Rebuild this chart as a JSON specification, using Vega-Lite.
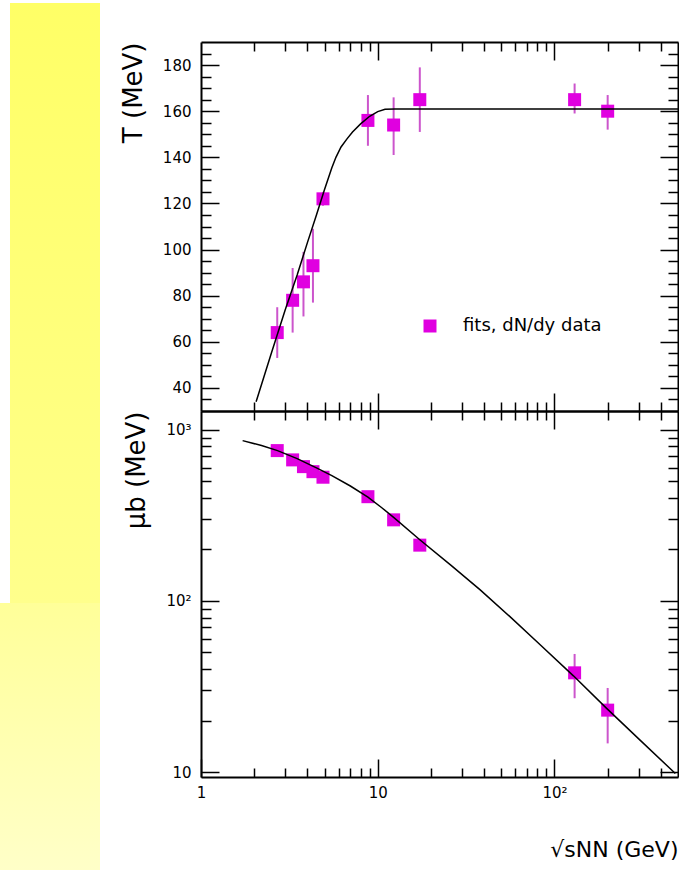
{
  "$schema": "https://vega.github.io/schema/vega-lite/v6.json",
  "background": "white",
  "padding": {"left": 0, "top": 3, "right": 0, "bottom": 0},
  "config": {
    "font": "DejaVu Sans",
    "view": {"stroke": null},
    "axis": {"grid": false, "domainColor": "black", "tickColor": "black", "labelColor": "black", "titleColor": "black", "labelFontSize": 15, "domainWidth": 2, "tickWidth": 1.5, "labelFlush": false, "labelOverlap": false, "titleFontWeight": "normal"}
  },
  "spacing": 20,
  "resolve": {"scale": {"color": "independent"}},
  "hconcat": [
    {
      "spacing": 0,
      "vconcat": [
        {
          "spacing": 0,
          "hconcat": [
            {"width": 10, "height": 600, "data": {"values": [{"part": "gap"}]}, "mark": {"type": "rect", "opacity": 0}, "encoding": {}},
            {"width": 90, "height": 600, "data": {"values": [{"part": "strip"}]}, "mark": {"type": "rect", "color": {"gradient": "linear", "x1": 0, "y1": 0, "x2": 0, "y2": 1, "stops": [{"offset": 0, "color": "#ffff66"}, {"offset": 1, "color": "#ffff8c"}]}}, "encoding": {}}
          ]
        },
        {"width": 100, "height": 267, "data": {"values": [{"part": "foot"}]}, "mark": {"type": "rect", "color": {"gradient": "linear", "x1": 0, "y1": 0, "x2": 0, "y2": 1, "stops": [{"offset": 0, "color": "#ffff99"}, {"offset": 1, "color": "#ffffc8"}]}}, "encoding": {}}
      ]
    },
    {
      "spacing": 0,
      "bounds": "flush",
      "resolve": {"scale": {"color": "independent"}},
      "vconcat": [
        {"width": 477, "height": 39, "data": {"values": [{"part": "spacer"}]}, "mark": {"type": "rect", "opacity": 0}, "encoding": {}},
        {
          "width": 477,
          "height": 369,
          "data": {"values": [
            {"s": 2.7, "T": 64, "lo": 53, "hi": 75},
            {"s": 3.3, "T": 78, "lo": 64, "hi": 92},
            {"s": 3.8, "T": 86, "lo": 71, "hi": 99},
            {"s": 4.3, "T": 93, "lo": 77, "hi": 109},
            {"s": 4.9, "T": 122, "lo": 119, "hi": 125},
            {"s": 8.8, "T": 156, "lo": 145, "hi": 167},
            {"s": 12.3, "T": 154, "lo": 141, "hi": 166},
            {"s": 17.3, "T": 165, "lo": 151, "hi": 179},
            {"s": 130, "T": 165, "lo": 159, "hi": 172},
            {"s": 200, "T": 160, "lo": 152, "hi": 167}
          ]},
          "resolve": {"axis": {"x": "independent", "y": "independent"}},
          "layer": [
            {
              "mark": {"type": "rule", "color": "#cc55cc", "strokeWidth": 2},
              "encoding": {
                "x": {"field": "s", "type": "quantitative", "scale": {"type": "log", "domain": [1, 500], "nice": false},
                  "axis": {"orient": "bottom", "values": [2,3,4,5,6,7,8,9,10,20,30,40,50,60,70,80,90,100,200,300,400], "labels": false, "title": null,
                    "tickSize": {"condition": {"test": "datum.value == 10 || datum.value == 100", "value": -18}, "value": -9}}},
                "y": {"field": "lo", "type": "quantitative", "scale": {"domain": [30, 190], "nice": false, "zero": false},
                  "axis": {"orient": "left", "values": [35,40,45,50,55,60,65,70,75,80,85,90,95,100,105,110,115,120,125,130,135,140,145,150,155,160,165,170,175,180,185],
                    "tickSize": {"condition": {"test": "datum.value % 20 == 0", "value": -18}, "value": -10},
                    "labelExpr": "datum.value % 20 == 0 ? datum.label : ''", "labelPadding": 28,
                    "title": "T (MeV)", "titleFontSize": 26, "titleAnchor": "end", "titlePadding": 16}},
                "y2": {"field": "hi"}
              }
            },
            {
              "mark": {"type": "point", "shape": "square", "filled": true, "size": 169, "opacity": 1},
              "encoding": {
                "x": {"field": "s", "type": "quantitative", "scale": {"type": "log", "domain": [1, 500], "nice": false},
                  "axis": {"orient": "top", "values": [2,3,4,5,6,7,8,9,10,20,30,40,50,60,70,80,90,100,200,300,400], "labels": false, "title": null,
                    "tickSize": {"condition": {"test": "datum.value == 10 || datum.value == 100", "value": -18}, "value": -9}}},
                "y": {"field": "T", "type": "quantitative", "scale": {"domain": [30, 190], "nice": false, "zero": false},
                  "axis": {"orient": "right", "values": [35,40,45,50,55,60,65,70,75,80,85,90,95,100,105,110,115,120,125,130,135,140,145,150,155,160,165,170,175,180,185],
                    "tickSize": {"condition": {"test": "datum.value % 20 == 0", "value": -18}, "value": -10}, "labels": false, "title": null}},
                "color": {"datum": "fits, dN/dy data", "type": "nominal", "scale": {"range": ["#e000e0"]},
                  "legend": {"orient": "bottom-right", "offset": 76, "title": null, "symbolType": "square", "symbolSize": 169, "symbolStrokeWidth": 0, "labelFontSize": 18, "labelOffset": 24, "padding": 0, "labelColor": "black"}}
              }
            },
            {
              "data": {"values": [
                {"s": 2.05, "T": 34}, {"s": 2.5, "T": 55}, {"s": 3.0, "T": 74}, {"s": 3.5, "T": 89}, {"s": 4.0, "T": 103},
                {"s": 4.5, "T": 115}, {"s": 5.0, "T": 126}, {"s": 5.5, "T": 135.5}, {"s": 5.8, "T": 140}, {"s": 6.2, "T": 144.5},
                {"s": 6.7, "T": 148}, {"s": 7.2, "T": 151}, {"s": 8.0, "T": 154.5}, {"s": 9.0, "T": 157.8}, {"s": 10.0, "T": 159.8},
                {"s": 11.0, "T": 160.8}, {"s": 12.5, "T": 161}, {"s": 500, "T": 161}
              ]},
              "mark": {"type": "line", "color": "black", "strokeWidth": 1.5, "clip": true},
              "encoding": {
                "x": {"field": "s", "type": "quantitative", "scale": {"type": "log", "domain": [1, 500], "nice": false}, "axis": null},
                "y": {"field": "T", "type": "quantitative", "scale": {"domain": [30, 190], "nice": false, "zero": false}, "axis": null}
              }
            }
          ]
        },
        {
          "width": 477,
          "height": 366,
          "data": {"values": [
            {"s": 2.7, "mu": 757, "lo": 735, "hi": 780},
            {"s": 3.3, "mu": 668, "lo": 648, "hi": 688},
            {"s": 3.8, "mu": 610, "lo": 592, "hi": 628},
            {"s": 4.3, "mu": 570, "lo": 553, "hi": 587},
            {"s": 4.9, "mu": 529, "lo": 513, "hi": 545},
            {"s": 8.8, "mu": 407, "lo": 395, "hi": 419},
            {"s": 12.3, "mu": 298, "lo": 289, "hi": 307},
            {"s": 17.3, "mu": 212, "lo": 206, "hi": 218},
            {"s": 130, "mu": 38, "lo": 27, "hi": 49},
            {"s": 200, "mu": 23, "lo": 14.7, "hi": 31}
          ]},
          "resolve": {"axis": {"x": "independent", "y": "independent"}},
          "layer": [
            {
              "mark": {"type": "rule", "color": "#cc55cc", "strokeWidth": 2},
              "encoding": {
                "x": {"field": "s", "type": "quantitative", "scale": {"type": "log", "domain": [1, 500], "nice": false},
                  "axis": {"orient": "bottom", "values": [1,2,3,4,5,6,7,8,9,10,20,30,40,50,60,70,80,90,100,200,300,400],
                    "tickSize": {"condition": {"test": "datum.value == 1 || datum.value == 10 || datum.value == 100", "value": -18}, "value": -9},
                    "labelExpr": "datum.value == 1 ? '1' : datum.value == 10 ? '10' : datum.value == 100 ? '10²' : ''", "labelPadding": 26,
                    "title": "√sNN (GeV)", "titleFontSize": 22, "titleAnchor": "end", "titlePadding": 30}},
                "y": {"field": "lo", "type": "quantitative", "scale": {"type": "log", "domain": [9.35, 1290], "nice": false},
                  "axis": {"orient": "left", "values": [10,20,30,40,50,60,70,80,90,100,200,300,400,500,600,700,800,900,1000],
                    "tickSize": {"condition": {"test": "datum.value == 10 || datum.value == 100 || datum.value == 1000", "value": -18}, "value": -10},
                    "labelExpr": "datum.value == 10 ? '10' : datum.value == 100 ? '10²' : datum.value == 1000 ? '10³' : ''", "labelPadding": 28,
                    "title": "μb (MeV)", "titleFontSize": 26, "titleAnchor": "end", "titlePadding": 16}},
                "y2": {"field": "hi"}
              }
            },
            {
              "mark": {"type": "point", "shape": "square", "filled": true, "size": 169, "opacity": 1, "color": "#e000e0"},
              "encoding": {
                "x": {"field": "s", "type": "quantitative", "scale": {"type": "log", "domain": [1, 500], "nice": false},
                  "axis": {"orient": "top", "values": [2,3,4,5,6,7,8,9,10,20,30,40,50,60,70,80,90,100,200,300,400], "labels": false, "title": null,
                    "tickSize": {"condition": {"test": "datum.value == 10 || datum.value == 100", "value": -18}, "value": -9}}},
                "y": {"field": "mu", "type": "quantitative", "scale": {"type": "log", "domain": [9.35, 1290], "nice": false},
                  "axis": {"orient": "right", "values": [10,20,30,40,50,60,70,80,90,100,200,300,400,500,600,700,800,900,1000],
                    "tickSize": {"condition": {"test": "datum.value == 10 || datum.value == 100 || datum.value == 1000", "value": -18}, "value": -10}, "labels": false, "title": null}}
              }
            },
            {
              "data": {"values": [
                {"s": 1.72, "mu": 866}, {"s": 2.2, "mu": 810}, {"s": 2.71, "mu": 757}, {"s": 3.5, "mu": 680}, {"s": 4.5, "mu": 600},
                {"s": 5.5, "mu": 540}, {"s": 7.0, "mu": 470}, {"s": 8.8, "mu": 405}, {"s": 10.5, "mu": 352}, {"s": 12.3, "mu": 308},
                {"s": 17.3, "mu": 228}, {"s": 25.9, "mu": 162}, {"s": 38, "mu": 116}, {"s": 56, "mu": 81}, {"s": 83, "mu": 55.5},
                {"s": 128, "mu": 36.5}, {"s": 196, "mu": 23.7}, {"s": 306, "mu": 15.3}, {"s": 483, "mu": 9.8}
              ]},
              "mark": {"type": "line", "color": "black", "strokeWidth": 1.5, "clip": true},
              "encoding": {
                "x": {"field": "s", "type": "quantitative", "scale": {"type": "log", "domain": [1, 500], "nice": false}, "axis": null},
                "y": {"field": "mu", "type": "quantitative", "scale": {"type": "log", "domain": [9.35, 1290], "nice": false}, "axis": null}
              }
            }
          ]
        }
      ]
    }
  ]
}
